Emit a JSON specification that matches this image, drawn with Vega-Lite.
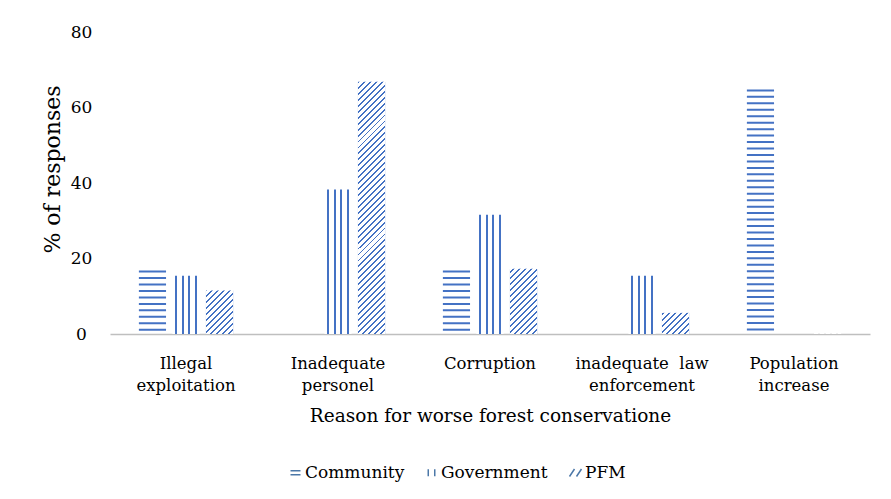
{
  "$schema": "https://vega.github.io/schema/vega-lite/v6.json",
  "width": 760,
  "height": 302,
  "autosize": "none",
  "padding": {"left": 110, "top": 32, "right": 21, "bottom": 165},
  "background": "white",
  "config": {
    "view": {"stroke": null},
    "axis": {"labelFont": "DejaVu Serif", "titleFont": "DejaVu Serif", "labelColor": "#000", "titleColor": "#000", "titleFontWeight": "normal", "ticks": false, "grid": false},
    "axisY": {"labelFontSize": 17, "labelAlign": "center", "labelBaseline": "middle", "labelLineHeight": 17, "labelPadding": 29, "domain": false, "labelOverlap": false, "labelSeparation": -60, "labelBound": false, "titleFontSize": 22, "titleAngle": -90, "titleX": -58, "titleY": 137, "titleAlign": "center", "titleBaseline": "middle"},
    "axisX": {"labelFontSize": 16.5, "labelAngle": 0, "labelPadding": 21, "labelLineHeight": 22, "domainColor": "#BFBFBF", "domainWidth": 1.5, "titleFontSize": 18.5, "titlePadding": 13, "labelOverlap": false, "zindex": 1}
  },
  "data": {
    "values": [
      {"reason": "Illegal exploitation", "group": "Community", "value": 16.8},
      {"reason": "Inadequate personel", "group": "Community", "value": 0},
      {"reason": "Corruption", "group": "Community", "value": 16.8},
      {"reason": "inadequate law enforcement", "group": "Community", "value": 0},
      {"reason": "Population increase", "group": "Community", "value": 64.8},
      {"reason": "Illegal exploitation", "group": "Government", "value": 15.4},
      {"reason": "Inadequate personel", "group": "Government", "value": 38.3},
      {"reason": "Corruption", "group": "Government", "value": 31.6},
      {"reason": "inadequate law enforcement", "group": "Government", "value": 15.4},
      {"reason": "Population increase", "group": "Government", "value": 0},
      {"reason": "Illegal exploitation", "group": "PFM", "value": 11.5},
      {"reason": "Inadequate personel", "group": "PFM", "value": 66.8},
      {"reason": "Corruption", "group": "PFM", "value": 17.3},
      {"reason": "inadequate law enforcement", "group": "PFM", "value": 5.6},
      {"reason": "Population increase", "group": "PFM", "value": 0}
    ]
  },
  "encoding": {
    "x": {
      "field": "reason", "type": "nominal",
      "sort": ["Illegal exploitation", "Inadequate personel", "Corruption", "inadequate law enforcement", "Population increase"],
      "scale": {"paddingInner": 0.38, "paddingOuter": 0.19},
      "axis": {
        "title": "Reason for worse forest conservatione",
        "labelExpr": "{'Illegal exploitation': ['Illegal', 'exploitation'], 'Inadequate personel': ['Inadequate', 'personel'], 'Corruption': 'Corruption', 'inadequate law enforcement': ['inadequate \u00a0law', 'enforcement'], 'Population increase': ['Population', 'increase']}[datum.value]"
      }
    },
    "xOffset": {
      "field": "group", "type": "nominal",
      "scale": {"domain": ["Community", "Government", "PFM"], "paddingInner": 0.19, "paddingOuter": 0}
    },
    "y": {"field": "value", "type": "quantitative", "title": "% of responses", "scale": {"domain": [0, 80], "nice": false}, "axis": {"values": [0, 10, 20, 30, 40, 50, 60, 70, 80], "tickCount": 8, "labelOverlap": false, "labelSeparation": -60}}
  },
  "layer": [
    {
      "transform": [{"filter": "datum.group == 'Community'"}],
      "mark": {"type": "rule", "color": "#4472C4", "strokeWidth": 27.16, "strokeDash": [2, 4.46], "strokeCap": "butt"},
      "encoding": {
        "y2": {"datum": 0}
      }
    },
    {
      "transform": [{"filter": "datum.group == 'Government'"}],
      "mark": {
        "type": "bar",
        "fill": {
          "gradient": "linear", "x1": 0, "y1": 0, "x2": 1, "y2": 0,
          "stops": [
            {"offset": 0, "color": "#ffffff"}, {"offset": 0.1134, "color": "#ffffff"},
            {"offset": 0.1134, "color": "#4472C4"}, {"offset": 0.187, "color": "#4472C4"},
            {"offset": 0.187, "color": "#ffffff"}, {"offset": 0.3465, "color": "#ffffff"},
            {"offset": 0.3465, "color": "#4472C4"}, {"offset": 0.4201, "color": "#4472C4"},
            {"offset": 0.4201, "color": "#ffffff"}, {"offset": 0.5799, "color": "#ffffff"},
            {"offset": 0.5799, "color": "#4472C4"}, {"offset": 0.6535, "color": "#4472C4"},
            {"offset": 0.6535, "color": "#ffffff"}, {"offset": 0.813, "color": "#ffffff"},
            {"offset": 0.813, "color": "#4472C4"}, {"offset": 0.8866, "color": "#4472C4"},
            {"offset": 0.8866, "color": "#ffffff"}, {"offset": 1, "color": "#ffffff"}
          ]
        }
      }
    },
    {
      "transform": [{"filter": "datum.group == 'PFM'"}],
      "mark": {"type": "bar", "color": "#4472C4"}
    },
    {
      "transform": [{"filter": "datum.group == 'PFM'"}],
      "mark": {
        "type": "bar",
        "fill": {
          "gradient": "linear", "x1": 0, "y1": 0, "x2": 0.11216, "y2": 1.09125,
          "stops": [
            {"offset": 0, "color": "transparent"}, {"offset": 0.0065, "color": "transparent"}, {"offset": 0.0065, "color": "#ffffff"}, {"offset": 0.0204, "color": "#ffffff"},
            {"offset": 0.0204, "color": "transparent"}, {"offset": 0.0269, "color": "transparent"}, {"offset": 0.0269, "color": "#ffffff"}, {"offset": 0.0408, "color": "#ffffff"},
            {"offset": 0.0408, "color": "transparent"}, {"offset": 0.0473, "color": "transparent"}, {"offset": 0.0473, "color": "#ffffff"}, {"offset": 0.0612, "color": "#ffffff"},
            {"offset": 0.0612, "color": "transparent"}, {"offset": 0.0677, "color": "transparent"}, {"offset": 0.0677, "color": "#ffffff"}, {"offset": 0.0816, "color": "#ffffff"},
            {"offset": 0.0816, "color": "transparent"}, {"offset": 0.0881, "color": "transparent"}, {"offset": 0.0881, "color": "#ffffff"}, {"offset": 0.102, "color": "#ffffff"},
            {"offset": 0.102, "color": "transparent"}, {"offset": 0.1085, "color": "transparent"}, {"offset": 0.1085, "color": "#ffffff"}, {"offset": 0.1224, "color": "#ffffff"},
            {"offset": 0.1224, "color": "transparent"}, {"offset": 0.1289, "color": "transparent"}, {"offset": 0.1289, "color": "#ffffff"}, {"offset": 0.1429, "color": "#ffffff"},
            {"offset": 0.1429, "color": "transparent"}, {"offset": 0.1494, "color": "transparent"}, {"offset": 0.1494, "color": "#ffffff"}, {"offset": 0.1633, "color": "#ffffff"},
            {"offset": 0.1633, "color": "transparent"}, {"offset": 0.1698, "color": "transparent"}, {"offset": 0.1698, "color": "#ffffff"}, {"offset": 0.1837, "color": "#ffffff"},
            {"offset": 0.1837, "color": "transparent"}, {"offset": 0.1902, "color": "transparent"}, {"offset": 0.1902, "color": "#ffffff"}, {"offset": 0.2041, "color": "#ffffff"},
            {"offset": 0.2041, "color": "transparent"}, {"offset": 0.2106, "color": "transparent"}, {"offset": 0.2106, "color": "#ffffff"}, {"offset": 0.2245, "color": "#ffffff"},
            {"offset": 0.2245, "color": "transparent"}, {"offset": 0.231, "color": "transparent"}, {"offset": 0.231, "color": "#ffffff"}, {"offset": 0.2449, "color": "#ffffff"},
            {"offset": 0.2449, "color": "transparent"}, {"offset": 0.2514, "color": "transparent"}, {"offset": 0.2514, "color": "#ffffff"}, {"offset": 0.2653, "color": "#ffffff"},
            {"offset": 0.2653, "color": "transparent"}, {"offset": 0.2718, "color": "transparent"}, {"offset": 0.2718, "color": "#ffffff"}, {"offset": 0.2857, "color": "#ffffff"},
            {"offset": 0.2857, "color": "transparent"}, {"offset": 0.2922, "color": "transparent"}, {"offset": 0.2922, "color": "#ffffff"}, {"offset": 0.3061, "color": "#ffffff"},
            {"offset": 0.3061, "color": "transparent"}, {"offset": 0.3126, "color": "transparent"}, {"offset": 0.3126, "color": "#ffffff"}, {"offset": 0.3265, "color": "#ffffff"},
            {"offset": 0.3265, "color": "transparent"}, {"offset": 0.333, "color": "transparent"}, {"offset": 0.333, "color": "#ffffff"}, {"offset": 0.3469, "color": "#ffffff"},
            {"offset": 0.3469, "color": "transparent"}, {"offset": 0.3534, "color": "transparent"}, {"offset": 0.3534, "color": "#ffffff"}, {"offset": 0.3673, "color": "#ffffff"},
            {"offset": 0.3673, "color": "transparent"}, {"offset": 0.3738, "color": "transparent"}, {"offset": 0.3738, "color": "#ffffff"}, {"offset": 0.3878, "color": "#ffffff"},
            {"offset": 0.3878, "color": "transparent"}, {"offset": 0.3943, "color": "transparent"}, {"offset": 0.3943, "color": "#ffffff"}, {"offset": 0.4082, "color": "#ffffff"},
            {"offset": 0.4082, "color": "transparent"}, {"offset": 0.4147, "color": "transparent"}, {"offset": 0.4147, "color": "#ffffff"}, {"offset": 0.4286, "color": "#ffffff"},
            {"offset": 0.4286, "color": "transparent"}, {"offset": 0.4351, "color": "transparent"}, {"offset": 0.4351, "color": "#ffffff"}, {"offset": 0.449, "color": "#ffffff"},
            {"offset": 0.449, "color": "transparent"}, {"offset": 0.4555, "color": "transparent"}, {"offset": 0.4555, "color": "#ffffff"}, {"offset": 0.4694, "color": "#ffffff"},
            {"offset": 0.4694, "color": "transparent"}, {"offset": 0.4759, "color": "transparent"}, {"offset": 0.4759, "color": "#ffffff"}, {"offset": 0.4898, "color": "#ffffff"},
            {"offset": 0.4898, "color": "transparent"}, {"offset": 0.4963, "color": "transparent"}, {"offset": 0.4963, "color": "#ffffff"}, {"offset": 0.5102, "color": "#ffffff"},
            {"offset": 0.5102, "color": "transparent"}, {"offset": 0.5167, "color": "transparent"}, {"offset": 0.5167, "color": "#ffffff"}, {"offset": 0.5306, "color": "#ffffff"},
            {"offset": 0.5306, "color": "transparent"}, {"offset": 0.5371, "color": "transparent"}, {"offset": 0.5371, "color": "#ffffff"}, {"offset": 0.551, "color": "#ffffff"},
            {"offset": 0.551, "color": "transparent"}, {"offset": 0.5575, "color": "transparent"}, {"offset": 0.5575, "color": "#ffffff"}, {"offset": 0.5714, "color": "#ffffff"},
            {"offset": 0.5714, "color": "transparent"}, {"offset": 0.5779, "color": "transparent"}, {"offset": 0.5779, "color": "#ffffff"}, {"offset": 0.5918, "color": "#ffffff"},
            {"offset": 0.5918, "color": "transparent"}, {"offset": 0.5983, "color": "transparent"}, {"offset": 0.5983, "color": "#ffffff"}, {"offset": 0.6122, "color": "#ffffff"},
            {"offset": 0.6122, "color": "transparent"}, {"offset": 0.6187, "color": "transparent"}, {"offset": 0.6187, "color": "#ffffff"}, {"offset": 0.6327, "color": "#ffffff"},
            {"offset": 0.6327, "color": "transparent"}, {"offset": 0.6392, "color": "transparent"}, {"offset": 0.6392, "color": "#ffffff"}, {"offset": 0.6531, "color": "#ffffff"},
            {"offset": 0.6531, "color": "transparent"}, {"offset": 0.6596, "color": "transparent"}, {"offset": 0.6596, "color": "#ffffff"}, {"offset": 0.6735, "color": "#ffffff"},
            {"offset": 0.6735, "color": "transparent"}, {"offset": 0.68, "color": "transparent"}, {"offset": 0.68, "color": "#ffffff"}, {"offset": 0.6939, "color": "#ffffff"},
            {"offset": 0.6939, "color": "transparent"}, {"offset": 0.7004, "color": "transparent"}, {"offset": 0.7004, "color": "#ffffff"}, {"offset": 0.7143, "color": "#ffffff"},
            {"offset": 0.7143, "color": "transparent"}, {"offset": 0.7208, "color": "transparent"}, {"offset": 0.7208, "color": "#ffffff"}, {"offset": 0.7347, "color": "#ffffff"},
            {"offset": 0.7347, "color": "transparent"}, {"offset": 0.7412, "color": "transparent"}, {"offset": 0.7412, "color": "#ffffff"}, {"offset": 0.7551, "color": "#ffffff"},
            {"offset": 0.7551, "color": "transparent"}, {"offset": 0.7616, "color": "transparent"}, {"offset": 0.7616, "color": "#ffffff"}, {"offset": 0.7755, "color": "#ffffff"},
            {"offset": 0.7755, "color": "transparent"}, {"offset": 0.782, "color": "transparent"}, {"offset": 0.782, "color": "#ffffff"}, {"offset": 0.7959, "color": "#ffffff"},
            {"offset": 0.7959, "color": "transparent"}, {"offset": 0.8024, "color": "transparent"}, {"offset": 0.8024, "color": "#ffffff"}, {"offset": 0.8163, "color": "#ffffff"},
            {"offset": 0.8163, "color": "transparent"}, {"offset": 0.8228, "color": "transparent"}, {"offset": 0.8228, "color": "#ffffff"}, {"offset": 0.8367, "color": "#ffffff"},
            {"offset": 0.8367, "color": "transparent"}, {"offset": 0.8432, "color": "transparent"}, {"offset": 0.8432, "color": "#ffffff"}, {"offset": 0.8571, "color": "#ffffff"},
            {"offset": 0.8571, "color": "transparent"}, {"offset": 0.8636, "color": "transparent"}, {"offset": 0.8636, "color": "#ffffff"}, {"offset": 0.8776, "color": "#ffffff"},
            {"offset": 0.8776, "color": "transparent"}, {"offset": 0.8841, "color": "transparent"}, {"offset": 0.8841, "color": "#ffffff"}, {"offset": 0.898, "color": "#ffffff"},
            {"offset": 0.898, "color": "transparent"}, {"offset": 0.9045, "color": "transparent"}, {"offset": 0.9045, "color": "#ffffff"}, {"offset": 0.9184, "color": "#ffffff"},
            {"offset": 0.9184, "color": "transparent"}, {"offset": 0.9249, "color": "transparent"}, {"offset": 0.9249, "color": "#ffffff"}, {"offset": 0.9388, "color": "#ffffff"},
            {"offset": 0.9388, "color": "transparent"}, {"offset": 0.9453, "color": "transparent"}, {"offset": 0.9453, "color": "#ffffff"}, {"offset": 0.9592, "color": "#ffffff"},
            {"offset": 0.9592, "color": "transparent"}, {"offset": 0.9657, "color": "transparent"}, {"offset": 0.9657, "color": "#ffffff"}, {"offset": 0.9796, "color": "#ffffff"},
            {"offset": 0.9796, "color": "transparent"}, {"offset": 0.9861, "color": "transparent"}, {"offset": 0.9861, "color": "#ffffff"}, {"offset": 1, "color": "#ffffff"}
          ]
        }
      },
      "encoding": {
        "y": {"datum": 70, "type": "quantitative", "title": "% of responses", "axis": {"values": [0, 10, 20, 30, 40, 50, 60, 70, 80], "tickCount": 8, "labelOverlap": false, "labelSeparation": -60}},
        "y2": {"datum": 0}
      }
    },
    {
      "mark": {"type": "point", "opacity": 0, "filled": false},
      "encoding": {
        "y": {"datum": 0, "type": "quantitative", "title": "% of responses", "axis": {"values": [0, 10, 20, 30, 40, 50, 60, 70, 80], "tickCount": 8, "labelOverlap": false, "labelSeparation": -60}},
        "shape": {
          "field": "group", "type": "nominal",
          "scale": {
            "domain": ["Community", "Government", "PFM"],
            "range": ["M-1,-0.4H1M-1,0.4H1", "M-0.65,-0.7V0.7M0.65,-0.7V0.7", "M-1.2,0.75L-0.2,-0.75M0.2,0.75L1.2,-0.75"]
          },
          "legend": {
            "orient": "none", "legendX": 177, "legendY": 432, "direction": "horizontal", "title": null,
            "labelFont": "DejaVu Serif", "labelFontSize": 17, "labelColor": "#000",
            "symbolSize": 100, "columnPadding": 18, "labelOffset": 1, "padding": 0,
            "encode": {"symbols": {"update": {"opacity": {"value": 1}, "stroke": {"value": "#4472C4"}, "strokeWidth": {"value": 1.6}, "fill": {"value": "transparent"}}}}
          }
        }
      }
    }
  ]
}
